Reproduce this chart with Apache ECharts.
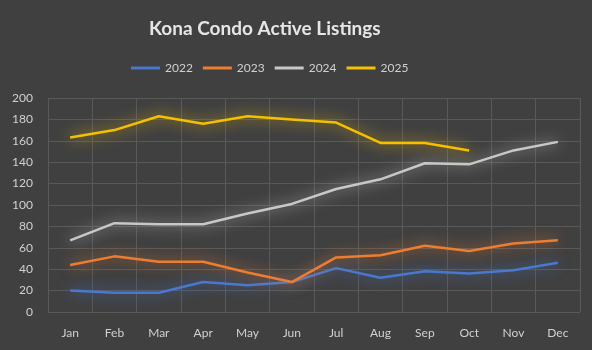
<!DOCTYPE html>
<html>
<head>
<meta charset="utf-8">
<script src="https://cdn.jsdelivr.net/npm/echarts@6/dist/echarts.min.js"></script>
<style>
  html, body { margin: 0; padding: 0; background: #404040; }
  #main { width: 592px; height: 350px; }
</style>
</head>
<body>
<div id="main"></div>
<script>
var months = ['Jan', 'Feb', 'Mar', 'Apr', 'May', 'Jun', 'Jul', 'Aug', 'Sep', 'Oct', 'Nov', 'Dec'];
var y2022 = [20, 18, 18, 28, 25, 28, 41, 32, 38, 36, 39, 46];
var y2023 = [44, 52, 47, 47, 37, 28, 51, 53, 62, 57, 64, 67];
var y2024 = [67, 83, 82, 82, 92, 101, 115, 124, 139, 138, 151, 159];
var y2025 = [163, 170, 183, 176, 183, 180, 177, 158, 158, 151];

var myChart = echarts.init(document.getElementById('main'));

// 画一条带发光效果的折线
var makeLine = function (name, data, color) {
    return {
        name: name,
        type: 'line',
        data: data,
        symbol: 'none',
        lineStyle: {
            color: color,
            width: 2.5,
            shadowColor: color,
            shadowBlur: 14
        },
        itemStyle: { color: color }
    };
};

var option = {
    backgroundColor: '#404040',
    animation: false,
    textStyle: { fontFamily: 'Lato' },
    title: {
        text: 'Kona Condo Active Listings',
        left: 144,
        top: 14,
        textStyle: { color: '#e6e6e6', fontSize: 19, fontWeight: 'bold', fontFamily: 'Lato' }
    },
    legend: {
        top: 57,
        left: 126,
        itemWidth: 29,
        itemHeight: 3,
        itemGap: 10,
        icon: 'rect',
        textStyle: { color: '#d0d0d0', fontSize: 12 },
        data: ['2022', '2023', '2024', '2025']
    },
    grid: { left: 48, right: 12, top: 98, bottom: 38 },
    xAxis: {
        type: 'category',
        data: months,
        boundaryGap: true,
        axisLine: { show: false },
        axisTick: { show: false },
        axisLabel: { color: '#d0d0d0', fontSize: 12, margin: 15 },
        splitLine: { show: true, lineStyle: { color: '#595959', width: 1 } }
    },
    yAxis: {
        type: 'value',
        min: 0,
        max: 200,
        interval: 20,
        axisLine: { show: false },
        axisTick: { show: false },
        axisLabel: { color: '#d0d0d0', fontSize: 12, margin: 15 },
        splitLine: { lineStyle: { color: '#595959', width: 1 } }
    },
    series: [
        makeLine('2022', y2022, '#4a78cc'),
        makeLine('2023', y2023, '#ed7d31'),
        makeLine('2024', y2024, '#c8c8c8'),
        makeLine('2025', y2025, '#f5c000')
    ]
};

myChart.setOption(option);
</script>
</body>
</html>
